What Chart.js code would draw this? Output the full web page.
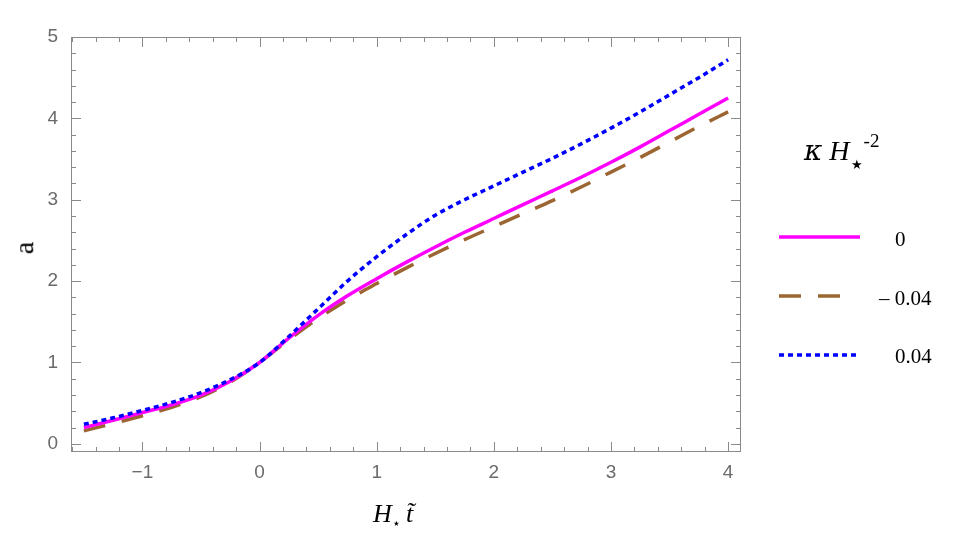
<!DOCTYPE html>
<html>
<head>
<meta charset="utf-8">
<script src="https://cdn.jsdelivr.net/npm/chart.js@4.4.1/dist/chart.umd.min.js"></script>
<style>
  body { margin: 0; background: #fff; }
  #wrap { position: relative; width: 955px; height: 548px; }
  #chart { position: absolute; left: 0; top: 0; }
  .lbl { position: absolute; font-family: "Liberation Serif", "DejaVu Serif", serif; color: #000; white-space: nowrap; }
  #ytitle { left: 18px; top: 232px; font-size: 28px; transform: rotate(-90deg); transform-origin: center; }
  #xtitle { left: 373px; top: 499px; font-size: 26px; font-style: italic; }
  #xtitle sub { font-size: 14px; font-style: normal; vertical-align: -6px; }
  #legtitle { left: 804px; top: 130px; font-size: 28px; font-style: italic; }
  #legtitle .st { font-size: 13px; font-style: normal; vertical-align: -9px; margin-left: 1px; }
  #legtitle sup { font-size: 19px; font-style: normal; vertical-align: 13px; margin-left: 1px; }
  .leg { font-size: 21px; }
</style>
</head>
<body>
<div id="wrap">
  <canvas id="chart" width="955" height="548"></canvas>
  <div class="lbl" id="ytitle">a</div>
  <div class="lbl" id="xtitle">H<sub>⋆</sub>&thinsp;t̃</div>
  <div class="lbl" id="legtitle">𝜅&nbsp;H<span class="st">★</span><sup>-2</sup></div>
  <div class="lbl leg" style="left:895px; top:227px;">0</div>
  <div class="lbl leg" style="left:879px; top:286px;">– 0.04</div>
  <div class="lbl leg" style="left:895px; top:344px;">0.04</div>
</div>
<script>
// values
const tValues = [-1.5, -1.25, -1, -0.75, -0.5, -0.25, 0, 0.25, 0.5, 0.75, 1, 1.25, 1.5, 1.75, 2, 2.25, 2.5, 2.75, 3, 3.25, 3.5, 3.75, 4];
const aZero = [0.20, 0.29, 0.385, 0.48, 0.60, 0.77, 1.00, 1.30, 1.58, 1.82, 2.03, 2.23, 2.42, 2.60, 2.77, 2.94, 3.11, 3.28, 3.46, 3.65, 3.85, 4.05, 4.25];
const aNeg = [0.16, 0.25, 0.345, 0.45, 0.58, 0.76, 1.00, 1.28, 1.54, 1.77, 1.97, 2.16, 2.34, 2.51, 2.67, 2.83, 2.99, 3.16, 3.34, 3.52, 3.71, 3.90, 4.08];
const aPos = [0.24, 0.32, 0.41, 0.51, 0.63, 0.79, 1.00, 1.32, 1.66, 2.00, 2.30, 2.57, 2.81, 3.00, 3.17, 3.34, 3.51, 3.69, 3.88, 4.08, 4.29, 4.50, 4.72];
const xTicks = [-1, 0, 1, 2, 3, 4];
const yTicks = [0, 1, 2, 3, 4, 5];

function pts(arr) {
    return tValues.map((t, i) => ({ x: t, y: arr[i] }));
}

const frameColor = '#8a8a8a';

// frame with inward major/minor ticks, like the original
const frameTicks = {
    id: 'frameTicks',
    afterDraw(chart) {
        const ctx = chart.ctx;
        const a = chart.chartArea;
        const xs = chart.scales.x, ys = chart.scales.y;
        ctx.save();
        ctx.strokeStyle = frameColor;
        ctx.lineWidth = 1;
        ctx.strokeRect(a.left + 0.5, a.top + 0.5, a.right - a.left - 1, a.bottom - a.top - 1);
        ctx.beginPath();
        for (let i = -8; i <= 20; i++) {
            const v = i / 5;
            if (v < xs.min || v > xs.max) continue;
            const px = Math.round(xs.getPixelForValue(v)) + 0.5;
            const len = (i % 5 === 0) ? 10 : 5;
            ctx.moveTo(px, a.bottom); ctx.lineTo(px, a.bottom - len);
            ctx.moveTo(px, a.top); ctx.lineTo(px, a.top + len);
        }
        for (let i = 0; i <= 25; i++) {
            const v = i / 5;
            const py = Math.round(ys.getPixelForValue(v)) + 0.5;
            const len = (i % 5 === 0) ? 10 : 5;
            ctx.moveTo(a.left, py); ctx.lineTo(a.left + len, py);
            ctx.moveTo(a.right, py); ctx.lineTo(a.right - len, py);
        }
        ctx.stroke();

        // legend samples drawn from dataset styles
        const rows = [{ i: 1, y: 237 }, { i: 2, y: 296 }, { i: 0, y: 355 }];
        rows.forEach(r => {
            const ds = chart.data.datasets[r.i];
            ctx.beginPath();
            ctx.strokeStyle = ds.borderColor;
            ctx.lineWidth = ds.borderWidth;
            ctx.setLineDash(ds.borderDash || []);
            ctx.moveTo(779, r.y);
            ctx.lineTo(r.i === 2 ? 847 : 860, r.y);
            ctx.stroke();
        });
        ctx.restore();
    }
};

new Chart(document.getElementById('chart'), {
    type: 'line',
    data: {
        datasets: [
            { label: '0.04', data: pts(aPos), borderColor: '#0000ff', borderWidth: 3.5, borderDash: [5, 4] },
            { label: '0', data: pts(aZero), borderColor: '#ff00ff', borderWidth: 3.5 },
            { label: '- 0.04', data: pts(aNeg), borderColor: '#9c6632', borderWidth: 3.5, borderDash: [22, 17] }
        ]
    },
    options: {
        responsive: false,
        animation: false,
        devicePixelRatio: 1,
        elements: {
            point: { radius: 0 },
            line: { cubicInterpolationMode: 'monotone', fill: false, borderCapStyle: 'butt' }
        },
        layout: { padding: { left: 0, right: 214, top: 37, bottom: 0 } },
        plugins: { legend: { display: false }, tooltip: { enabled: false } },
        scales: {
            x: {
                type: 'linear',
                min: -1.61,
                max: 4.11,
                grid: { display: false, drawTicks: false },
                border: { display: false },
                afterBuildTicks: s => { s.ticks = xTicks.map(v => ({ value: v })); },
                afterFit: s => { s.height = 96; },
                ticks: {
                    padding: 9,
                    color: '#6b6b6b',
                    font: { family: 'Liberation Sans', size: 19 },
                    maxRotation: 0,
                    callback: v => (v < 0 ? '\u2212' + Math.abs(v) : String(v))
                }
            },
            y: {
                min: -0.1,
                max: 5,
                grid: { display: false, drawTicks: false },
                border: { display: false },
                afterBuildTicks: s => { s.ticks = yTicks.map(v => ({ value: v })); },
                afterFit: s => { s.width = 71; },
                ticks: {
                    padding: 13,
                    color: '#6b6b6b',
                    font: { family: 'Liberation Sans', size: 19 }
                }
            }
        }
    },
    plugins: [frameTicks]
});
</script>
</body>
</html>
